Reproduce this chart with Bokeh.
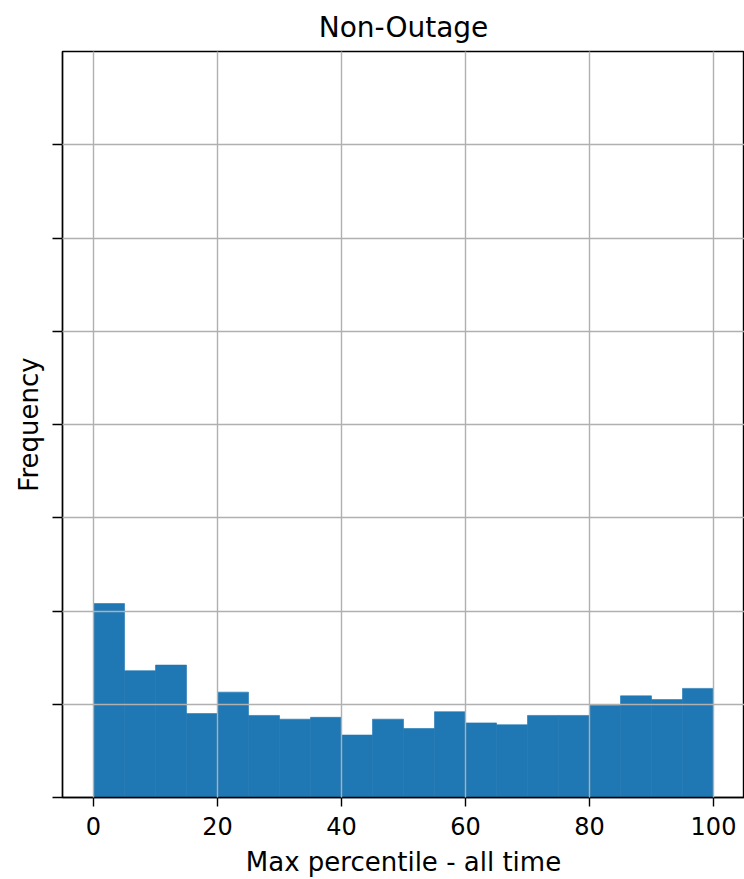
from bokeh.plotting import figure
from bokeh.models import Range1d, FixedTicker, CustomJSTickFormatter
from bokeh.embed import file_html
from bokeh.resources import INLINE

# Histogram data (20 bins over 0..100), heights in arbitrary count units
bin_edges = [0, 5, 10, 15, 20, 25, 30, 35, 40, 45, 50, 55, 60, 65, 70, 75, 80, 85, 90, 95, 100]
counts = [208, 136, 142, 90, 113, 88, 84, 86, 67, 84, 74, 92, 80, 78, 88, 88, 99, 109, 105, 117]
x_ticks = [0, 20, 40, 60, 80, 100]
y_ticks = [0, 100, 200, 300, 400, 500, 600, 700]
y_grid = [0, 100, 200, 300, 400, 500, 600, 700, 800]
title_text = "Non-Outage"
x_label = "Max percentile - all time"
y_label = "Frequency"

FONT = "DejaVu Sans"

p = figure(width=744, height=879, output_backend="svg", toolbar_location=None,
           x_range=Range1d(-5, 105), y_range=Range1d(0, 800),
           title=title_text,
           min_border_left=62, min_border_right=0,
           min_border_top=50, min_border_bottom=82)

p.quad(left=bin_edges[:-1], right=bin_edges[1:], top=counts, bottom=0,
       fill_color="#1f77b4", line_color="#1f77b4", line_width=0.6)

p.outline_line_color = "black"
p.outline_line_width = 1.4
p.background_fill_color = "white"
p.border_fill_color = "white"

p.title.text_font = FONT
p.title.text_font_size = "28px"
p.title.text_font_style = "normal"
p.title.align = "center"
p.title.text_color = "black"
p.title.standoff = 16

# x axis
xa = p.xaxis[0]
xa.ticker = FixedTicker(ticks=x_ticks)
xa.axis_label = x_label
xa.axis_label_text_font = FONT
xa.axis_label_text_font_size = "26px"
xa.axis_label_text_font_style = "normal"
xa.axis_label_text_color = "black"
xa.axis_label_standoff = 9
xa.major_label_text_font = FONT
xa.major_label_text_font_size = "24px"
xa.major_label_text_color = "black"
xa.major_tick_out = 9
xa.major_tick_in = 0
xa.minor_tick_line_color = None
xa.axis_line_width = 1.4
xa.major_tick_line_width = 1.4
xa.axis_line_color = "black"
xa.major_label_standoff = 10

# y axis (ticks without labels)
ya = p.yaxis[0]
ya.ticker = FixedTicker(ticks=y_ticks)
ya.formatter = CustomJSTickFormatter(code="return ''")
ya.axis_label = y_label
ya.axis_label_text_font = FONT
ya.axis_label_text_font_size = "26px"
ya.axis_label_text_font_style = "normal"
ya.axis_label_text_color = "black"
ya.major_tick_out = 10
ya.major_tick_in = 0
ya.minor_tick_line_color = None
ya.axis_line_width = 1.4
ya.major_tick_line_width = 1.4
ya.axis_line_color = "black"
ya.major_label_standoff = 0
ya.axis_label_standoff = 9

# grids drawn above bars
p.xgrid.ticker = FixedTicker(ticks=x_ticks)
p.ygrid.ticker = FixedTicker(ticks=y_grid)
for g in (p.xgrid[0], p.ygrid[0]):
    g.grid_line_color = "#b0b0b0"
    g.grid_line_width = 1.4
    g.level = "overlay"

open("out.html", "w").write(file_html(p, INLINE))
